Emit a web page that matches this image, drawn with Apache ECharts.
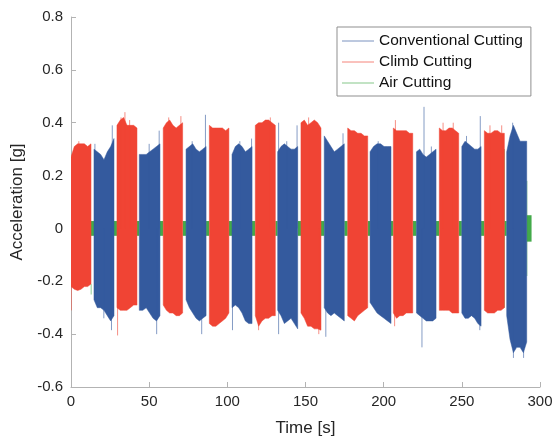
<!DOCTYPE html>
<html>
<head>
<meta charset="utf-8">
<script src="https://cdn.jsdelivr.net/npm/echarts@6/dist/echarts.min.js"></script>
<style>
  html, body { margin: 0; padding: 0; background: #fff; }
  #chart { width: 558px; height: 442px; }
</style>
</head>
<body>
<div id="chart"></div>
<script>
// Time ticks and acceleration ticks
const timeTicks = [0, 50, 100, 150, 200, 250, 300];
const accelTicks = [-0.6, -0.4, -0.2, 0, 0.2, 0.4, 0.6, 0.8];

// Climb cutting passes: start / end time [s] and envelope (7 samples across each pass) [g]
const climbStart = [0, 29.4, 59.0, 88.5, 117.9, 147.1, 177.0, 206.2, 235.6, 264.4];
const climbEnd   = [12.8, 42.2, 71.4, 101.0, 130.7, 159.9, 189.8, 218.6, 248.0, 277.2];
const climbTop = [
  [0.27, 0.31, 0.32, 0.32, 0.32, 0.31, 0.32],
  [0.39, 0.41, 0.42, 0.39, 0.39, 0.39, 0.38],
  [0.38, 0.40, 0.41, 0.39, 0.38, 0.39, 0.40],
  [0.39, 0.38, 0.38, 0.38, 0.38, 0.37, 0.38],
  [0.39, 0.40, 0.40, 0.41, 0.41, 0.40, 0.39],
  [0.40, 0.41, 0.39, 0.40, 0.41, 0.40, 0.38],
  [0.38, 0.37, 0.37, 0.36, 0.36, 0.35, 0.35],
  [0.38, 0.37, 0.37, 0.37, 0.37, 0.36, 0.36],
  [0.38, 0.37, 0.37, 0.38, 0.38, 0.37, 0.36],
  [0.37, 0.36, 0.36, 0.37, 0.37, 0.36, 0.36]
];
const climbBottom = [
  [-0.22, -0.23, -0.235, -0.23, -0.22, -0.22, -0.21],
  [-0.30, -0.31, -0.31, -0.31, -0.30, -0.29, -0.29],
  [-0.29, -0.31, -0.32, -0.32, -0.33, -0.33, -0.32],
  [-0.36, -0.37, -0.37, -0.36, -0.35, -0.34, -0.32],
  [-0.33, -0.37, -0.35, -0.34, -0.34, -0.33, -0.33],
  [-0.32, -0.34, -0.37, -0.37, -0.38, -0.38, -0.385],
  [-0.33, -0.34, -0.35, -0.33, -0.32, -0.31, -0.30],
  [-0.32, -0.34, -0.33, -0.33, -0.32, -0.32, -0.32],
  [-0.31, -0.31, -0.31, -0.31, -0.32, -0.32, -0.32],
  [-0.31, -0.32, -0.32, -0.32, -0.31, -0.31, -0.30]
];
// Isolated peaks [time, acceleration]
const climbPeaks = [[0.2, -0.31], [5.0, 0.33], [29.8, -0.405], [34.5, 0.44], [32.0, 0.42],
  [37.5, 0.41], [62.5, 0.42], [70.3, 0.425], [127.5, 0.42], [120.0, -0.385], [152.0, 0.42],
  [158.5, -0.40], [207.0, -0.37], [207.5, 0.41], [238.0, 0.40], [244.5, 0.40], [268.0, 0.39],
  [275.5, 0.39]];

// Conventional cutting passes
const convStart = [14.7, 43.7, 73.6, 103.0, 132.2, 162.0, 191.3, 221.0, 250.0, 278.7];
const convEnd   = [27.5, 56.9, 86.4, 115.8, 145.0, 174.8, 204.7, 233.5, 262.3, 291.5];
const convTop = [
  [0.30, 0.29, 0.28, 0.26, 0.29, 0.31, 0.34],
  [0.28, 0.28, 0.28, 0.29, 0.30, 0.31, 0.32],
  [0.30, 0.31, 0.32, 0.30, 0.29, 0.30, 0.31],
  [0.28, 0.31, 0.32, 0.31, 0.29, 0.30, 0.31],
  [0.29, 0.31, 0.32, 0.31, 0.30, 0.30, 0.31],
  [0.35, 0.33, 0.31, 0.29, 0.30, 0.31, 0.32],
  [0.29, 0.31, 0.32, 0.32, 0.31, 0.31, 0.31],
  [0.29, 0.30, 0.28, 0.27, 0.28, 0.29, 0.30],
  [0.31, 0.33, 0.32, 0.31, 0.30, 0.30, 0.31],
  [0.29, 0.35, 0.39, 0.36, 0.33, 0.33, 0.33]
];
const convBottom = [
  [-0.27, -0.30, -0.30, -0.31, -0.33, -0.35, -0.33],
  [-0.31, -0.31, -0.30, -0.32, -0.34, -0.35, -0.33],
  [-0.27, -0.30, -0.32, -0.34, -0.35, -0.34, -0.33],
  [-0.30, -0.29, -0.30, -0.32, -0.35, -0.36, -0.36],
  [-0.31, -0.33, -0.36, -0.35, -0.34, -0.36, -0.38],
  [-0.30, -0.32, -0.33, -0.32, -0.33, -0.34, -0.35],
  [-0.28, -0.30, -0.32, -0.33, -0.34, -0.35, -0.36],
  [-0.32, -0.33, -0.34, -0.35, -0.35, -0.35, -0.34],
  [-0.32, -0.34, -0.34, -0.33, -0.34, -0.36, -0.37],
  [-0.33, -0.42, -0.47, -0.45, -0.45, -0.47, -0.43]
];
const convPeaks = [[15.3, 0.32], [26.4, 0.39], [25.9, -0.385], [21.0, -0.34], [56.4, 0.37],
  [54.8, -0.40], [50.0, 0.32], [86.0, 0.43], [83.6, -0.40], [77.5, 0.33], [115.5, 0.34],
  [103.3, -0.385], [108.0, 0.33], [132.8, 0.40], [144.6, 0.39], [132.8, -0.40], [138.0, 0.33],
  [174.0, 0.36], [163.0, -0.41], [196.5, 0.33], [225.8, 0.46], [224.5, -0.45], [230.5, 0.31],
  [261.8, 0.425], [261.5, -0.385], [253.0, 0.35], [283.0, -0.49], [289.5, -0.49], [282.5, 0.40]];

// Air cutting between passes: start / end time [s] and half amplitude [g]
const airStart = [12.8, 27.5, 42.2, 56.9, 71.4, 86.4, 101.0, 115.8, 130.7, 145.0,
  159.9, 174.8, 189.8, 204.7, 218.6, 233.5, 248.0, 262.3, 277.2, 291.5];
const airEnd = [14.7, 29.4, 43.7, 59.0, 73.6, 88.5, 103.0, 117.9, 132.2, 147.1,
  162.0, 177.0, 191.3, 206.2, 221.0, 235.6, 250.0, 264.4, 278.7, 294.6];
const airAmp = [0.028, 0.028, 0.028, 0.028, 0.028, 0.028, 0.028, 0.028, 0.028, 0.028,
  0.028, 0.028, 0.028, 0.028, 0.028, 0.028, 0.028, 0.028, 0.028, 0.05];
// Transients at pass edges [time, low, high]
const airTransients = [[12.9, -0.25, -0.21], [277.3, -0.30, 0.30], [291.6, -0.18, 0.18]];

const COLORS = { conv: '#345a9e', climb: '#f04434', air: '#43aa4a' };
const FONT = 'Liberation Sans, Arial, Helvetica, sans-serif';

function passRenderer(starts, ends, tops, bottoms, peaks, color) {
  return function (params, api) {
    const i = params.dataIndex;
    const t0 = starts[i], t1 = ends[i];
    const top = tops[i], bot = bottoms[i];
    const n = top.length;
    const pts = [];
    for (let k = 0; k < n; k++) pts.push(api.coord([t0 + (t1 - t0) * k / (n - 1), top[k]]));
    for (let k = n - 1; k >= 0; k--) pts.push(api.coord([t0 + (t1 - t0) * k / (n - 1), bot[k]]));
    const children = [{
      type: 'polygon', shape: { points: pts },
      style: { fill: color, stroke: color, lineWidth: 1, strokeOpacity: 0.5 }
    }];
    peaks.forEach(function (p) {
      if (p[0] >= t0 - 0.5 && p[0] <= t1 + 0.5) {
        const a = api.coord([p[0], 0]);
        const b = api.coord([p[0], p[1]]);
        children.push({
          type: 'line', shape: { x1: a[0], y1: a[1], x2: b[0], y2: b[1] },
          style: { stroke: color, lineWidth: 1, opacity: 0.6 }
        });
      }
    });
    return { type: 'group', children: children };
  };
}

function airRenderer(params, api) {
  const i = params.dataIndex;
  const a = api.coord([airStart[i], airAmp[i]]);
  const b = api.coord([airEnd[i], -airAmp[i]]);
  const children = [{
    type: 'rect', shape: { x: a[0], y: a[1], width: b[0] - a[0], height: b[1] - a[1] },
    style: { fill: COLORS.air }
  }];
  airTransients.forEach(function (tr) {
    if (tr[0] >= airStart[i] - 0.5 && tr[0] <= airEnd[i]) {
      const p = api.coord([tr[0], tr[1]]);
      const q = api.coord([tr[0], tr[2]]);
      children.push({
        type: 'line', shape: { x1: p[0], y1: p[1], x2: q[0], y2: q[1] },
        style: { stroke: COLORS.air, lineWidth: 1, opacity: 0.6 }
      });
    }
  });
  return { type: 'group', children: children };
}

const chart = echarts.init(document.getElementById('chart'), null, { renderer: 'canvas' });
chart.setOption({
  animation: false,
  backgroundColor: '#fff',
  textStyle: { fontFamily: FONT },
  grid: { left: 71, right: 18, top: 17, bottom: 55, containLabel: false },
  legend: {
    orient: 'vertical', left: 337, top: 27,
    data: ['Conventional Cutting', 'Climb Cutting', 'Air Cutting'],
    icon: 'rect', itemWidth: 32, itemHeight: 1.2, itemGap: 5,
    padding: [6, 8, 5, 5],
    backgroundColor: '#fff', borderColor: '#8f8f8f', borderWidth: 1, borderRadius: 0,
    itemStyle: { opacity: 0.55 },
    textStyle: { fontFamily: FONT, fontSize: 15.5, color: '#111', lineHeight: 15 }
  },
  xAxis: {
    type: 'value', min: timeTicks[0], max: timeTicks[timeTicks.length - 1], interval: 50,
    name: 'Time [s]', nameLocation: 'middle', nameGap: 33,
    nameTextStyle: { fontFamily: FONT, fontSize: 17, color: '#262626' },
    axisLine: { show: true, onZero: false, lineStyle: { color: '#b3b3b3', width: 1 } },
    axisTick: { show: true, inside: true, length: 5, lineStyle: { color: '#b3b3b3' } },
    axisLabel: { margin: 7, fontFamily: FONT, fontSize: 15, color: '#262626' },
    splitLine: { show: false }
  },
  yAxis: {
    type: 'value', min: accelTicks[0], max: accelTicks[accelTicks.length - 1], interval: 0.2,
    name: 'Acceleration [g]', nameLocation: 'middle', nameGap: 40,
    nameTextStyle: { fontFamily: FONT, fontSize: 17, color: '#262626' },
    axisLine: { show: true, onZero: false, lineStyle: { color: '#b3b3b3', width: 1 } },
    axisTick: { show: true, inside: true, length: 5, lineStyle: { color: '#b3b3b3' } },
    axisLabel: {
      margin: 8, fontFamily: FONT, fontSize: 15, color: '#262626',
      formatter: function (v) { return String(Math.round(v * 10) / 10); }
    },
    splitLine: { show: false }
  },
  series: [
    {
      name: 'Air Cutting', type: 'custom', clip: true,
      itemStyle: { color: COLORS.air },
      data: airStart.map(function (s, i) { return [s, airEnd[i]]; }),
      encode: { x: [0, 1] },
      renderItem: airRenderer
    },
    {
      name: 'Conventional Cutting', type: 'custom', clip: true,
      itemStyle: { color: COLORS.conv },
      data: convStart.map(function (s, i) { return [s, convEnd[i]]; }),
      encode: { x: [0, 1] },
      renderItem: passRenderer(convStart, convEnd, convTop, convBottom, convPeaks, COLORS.conv)
    },
    {
      name: 'Climb Cutting', type: 'custom', clip: true,
      itemStyle: { color: COLORS.climb },
      data: climbStart.map(function (s, i) { return [s, climbEnd[i]]; }),
      encode: { x: [0, 1] },
      renderItem: passRenderer(climbStart, climbEnd, climbTop, climbBottom, climbPeaks, COLORS.climb)
    }
  ]
});
</script>
</body>
</html>
